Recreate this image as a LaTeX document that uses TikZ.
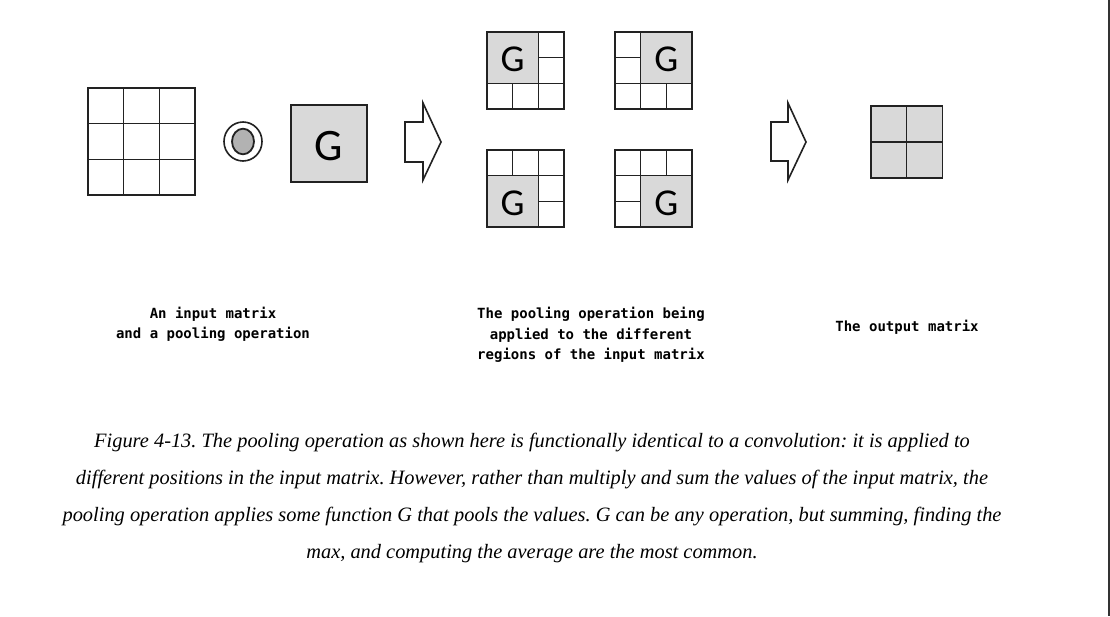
\documentclass[tikz,border=0pt]{standalone}
\usepackage{fontspec}
\setmainfont{Liberation Serif}
\newfontfamily\labelfont{DejaVu Sans Mono}
\newfontfamily\gfont{Carlito}
\definecolor{cellgray}{HTML}{D9D9D9}
\definecolor{linegray}{HTML}{222222}

\tikzset{
    cellbox/.style={draw=linegray, line width=1.3pt},
    poolbox/.style={cellbox, fill=cellgray},
    bigarrow/.style={draw=linegray, line width=1.6pt, line join=miter, fill=white},
    labeltext/.style={font=\labelfont\bfseries\fontsize{14}{20.5}\selectfont, align=center},
}

\begin{document}
\begin{tikzpicture}[x=1pt, y=-1pt]
    % Page frame
    \useasboundingbox (0,0) rectangle (1110,616);
    \fill[white] (0,0) rectangle (1110,616);
    \fill[black!80] (1107.5,0) rectangle (1110,616);

    % Input matrix (3x3)
    \foreach \i in {0,1,2}
        \foreach \j in {0,1,2}
            {
                \draw[cellbox] (88+35.7*\i,88+35.7*\j) rectangle ++(35.7,35.7);
            }

    % Pooling operator symbol
    \draw[linegray, line width=1.6pt] (243,141.5) ellipse [x radius=19, y radius=19.5];
    \filldraw[fill=black!30, draw=linegray, line width=1.8pt] (243,141.5) ellipse [x radius=11, y radius=12.8];

    % The function G
    \draw[poolbox] (291,105) rectangle (367,182);
    \node[font=\gfont\fontsize{45}{45}\selectfont] (gop) at (328.5,146) {G};

    % First arrow
    \draw[bigarrow] (405,122) -- (423,122) -- (423,103) -- (441,142) -- (423,180) -- (423,162) -- (405,162) -- cycle;

    % Pooling applied to the four regions (origin x / origin y / shift of G region)
    \def\cs{25.67}
    \foreach \ox/\oy/\gx/\gy/\n in {487/32/0/0/1, 615/32/1/0/2, 487/150/0/1/3, 615/150/1/1/4}
        {
            \foreach \i in {0,1,2}
                \foreach \j in {0,1,2}
                    {
                        \draw[cellbox] (\ox+\cs*\i,\oy+\cs*\j) rectangle ++(\cs,\cs);
                    }
            \draw[poolbox] (\ox+\cs*\gx,\oy+\cs*\gy) rectangle ++(2*\cs,2*\cs);
            \node[font=\gfont\fontsize{38}{38}\selectfont] (g\n) at (\ox+\cs*\gx+\cs,\oy+\cs*\gy+\cs+1.5) {G};
        }

    % Second arrow
    \draw[bigarrow] (771,122) -- (788,122) -- (788,103) -- (806,142) -- (788,180) -- (788,161) -- (771,161) -- cycle;

    % Output matrix (2x2)
    \foreach \i in {0,1}
        \foreach \j in {0,1}
            {
                \draw[poolbox] (871+35.7*\i,106+36*\j) rectangle ++(35.7,36);
            }

    % Labels
    \node[labeltext] (inlabel) at (213,324.5) {An input matrix\\and a pooling operation};
    \node[labeltext] (midlabel) at (591,335) {The pooling operation being\\applied to the different\\regions of the input matrix};
    \node[labeltext] (outlabel) at (907,327) {The output matrix};

    % Caption
    \node[font=\itshape\frenchspacing\fontsize{20.4}{37}\selectfont, align=center] (caption) at (532,497.5)
        {Figure 4-13. The pooling operation as shown here is functionally identical to a convolution: it is applied to\\
         different positions in the input matrix. However, rather than multiply and sum the values of the input matrix, the\\
         pooling operation applies some function G that pools the values. G can be any operation, but summing, finding the\\
         max, and computing the average are the most common.};
\end{tikzpicture}
\end{document}
